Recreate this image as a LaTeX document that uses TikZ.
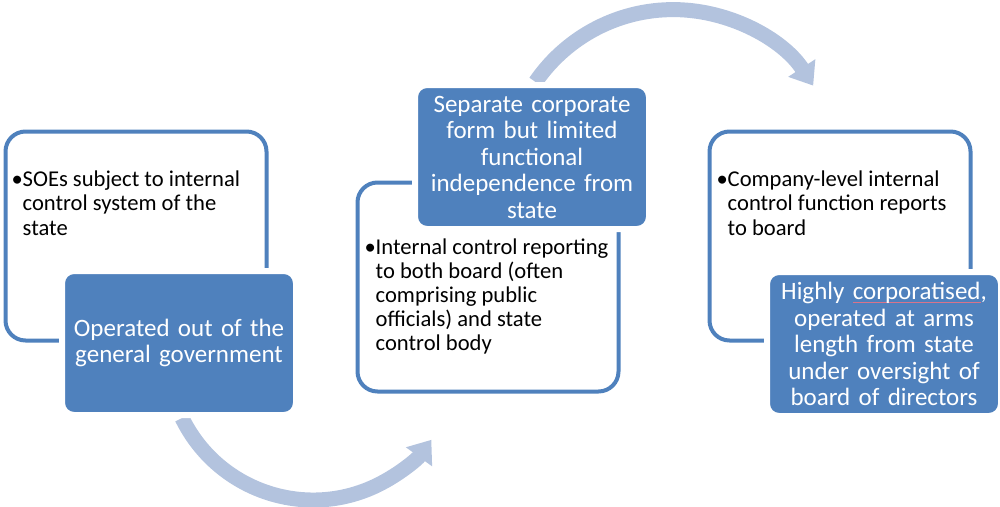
\documentclass[tikz,border=0pt]{standalone}
\usepackage{fontspec}
\setmainfont{Carlito}
\usepackage{xcolor}
\usepackage{tikz}
\usetikzlibrary{arrows.meta,positioning,backgrounds}
\definecolor{accent}{HTML}{4F81BD}
\definecolor{flowblue}{HTML}{B3C3DE}
\definecolor{spellred}{HTML}{D9738A}
\newcommand\spellmark[1]{\sbox0{#1}\rlap{\color{spellred}\rule[-3pt]{\wd0}{0.9pt}}\usebox0}
\newcommand\bulletline[1]{\makebox[11pt][l]{\textbullet}\begin{tabular}[t]{@{}l@{}}#1\end{tabular}}
\tikzset{
  stagebox/.style={
    rounded corners=20pt,draw=accent,fill=white,
    line width=4pt,minimum width=261pt,minimum height=209pt,inner sep=0pt
  },
  labelbox/.style={
    rounded corners=12pt,draw=white,fill=accent,
    line width=6pt,minimum width=234pt,minimum height=144pt,
    text width=224pt,align=center,text=white,inner sep=0pt,
    font=\fontsize{25}{26.5}\selectfont
  },
  notetext/.style={
    anchor=north west,inner sep=0pt,
    font=\fontsize{22.6}{24.2}\selectfont
  },
  flowarrow/.style={-{Triangle[width=31pt,length=21pt]},draw=flowblue,line width=15pt}
}

\begin{document}
\begin{tikzpicture}[x=1pt,y=-1pt]
\useasboundingbox (0,0) rectangle (1000,506);

\node[stagebox] (stage1) at (136,236) {};
\node[stagebox,right=87pt of stage1,yshift=-51pt] (stage2) {};
\node[stagebox,right=87pt of stage2,yshift=51pt] (stage3) {};

\node[notetext] (note1) at ([shift={(8pt,-40pt)}]stage1.north west)
{\bulletline{SOEs subject to internal\\control system of the\\state}};
\node[notetext] (note2) at ([shift={(9pt,-56.5pt)}]stage2.north west)
{\bulletline{Internal control reporting\\to both board (often\\comprising public\\officials) and state\\control body}};
\node[notetext] (note3) at ([shift={(9pt,-40pt)}]stage3.north west)
{\bulletline{Company-level internal\\control function reports\\to board}};

\node[labelbox,anchor=south east] (form1) at ([shift={(30.5pt,-75.5pt)}]stage1.south east)
{Operated out of the\\general government};
\node[labelbox,anchor=north east] (form2) at ([shift={(31.5pt,98.5pt)}]stage2.north east)
{Separate corporate\\form but limited\\functional\\independence from\\state};
\node[labelbox,anchor=south east] (form3) at ([shift={(31.5pt,-76.5pt)}]stage3.south east)
{Highly \spellmark{corporatised},\\operated at arms\\length from state\\under oversight of\\board of directors};

\coordinate (loopA) at ([xshift=3pt]form1.south);
\coordinate (loopB) at ([xshift=3.5pt]form2.north);
\begin{scope}[on background layer]
\draw[flowarrow] (loopA) arc[start angle=154,end angle=36,radius=146];
\draw[flowarrow] (loopB) arc[start angle=-145.5,end angle=-33,radius=167];
\end{scope}
\end{tikzpicture}
\end{document}
